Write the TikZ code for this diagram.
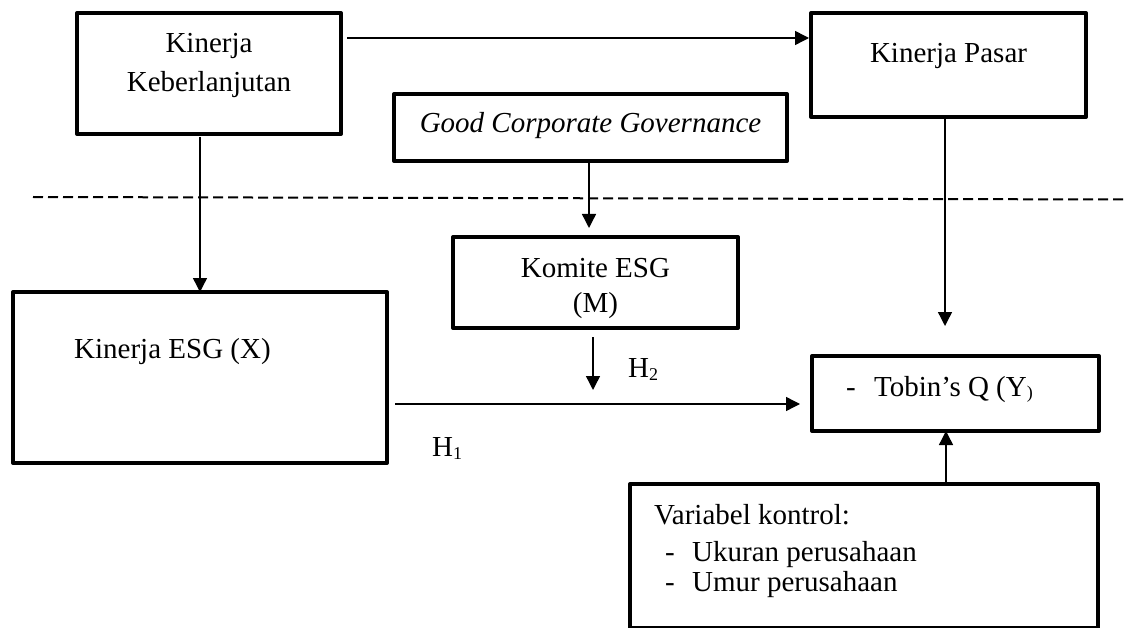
\documentclass[tikz,border=0pt]{standalone}
\usepackage{fontspec}
\setmainfont{Liberation Serif}
\usetikzlibrary{arrows.meta}
\begin{document}
\begin{tikzpicture}[x=1pt,y=-1pt,
  box/.style={draw,line width=4pt,line join=round,rectangle,inner sep=0pt,outer sep=0pt},
  txt/.style={font=\fontsize{29}{34}\selectfont,inner sep=0pt,anchor=base},
  txtl/.style={txt,anchor=base west},
  arr/.style={line width=1.4pt,-{Triangle[length=14pt,width=14pt]}},
  sepline/.style={line width=2pt,dash pattern=on 10pt off 5pt}]
\useasboundingbox (0,0) rectangle (1126,628);
% boxes
\node[box,minimum width=264pt,minimum height=121pt] (kk) at (209,73.5) {};
\node[box,minimum width=275pt,minimum height=104pt] (kp) at (948.5,65) {};
\node[box,minimum width=393pt,minimum height=67pt] (gcg) at (590.5,127.5) {};
\node[box,minimum width=285pt,minimum height=91pt] (kom) at (595.5,282.5) {};
\node[box,minimum width=374pt,minimum height=171pt] (esg) at (200,377.5) {};
\node[box,minimum width=287pt,minimum height=75pt] (tob) at (955.5,393.5) {};
\node[box,minimum width=468pt,minimum height=144pt] (ctl) at (864,556) {};
% texts
\node[txt] (kkA) at (209,53) {Kinerja};
\node[txt] (kkB) at (209,92) {Keberlanjutan};
\node[txt] (kpA) at (948.5,63) {Kinerja Pasar};
\node[txt] (gcgA) at (590.5,133) {\itshape Good Corporate Governance};
\node[txt] (komA) at (595.5,277) {Komite ESG};
\node[txt] (komB) at (595.5,312) {(M)};
\node[txtl] (esgA) at (74,358) {Kinerja ESG (X)};
\node[txtl] (tobD) at (846,396) {-};
\node[txtl] (tobA) at (874,396) {Tobin’s Q (Y\raisebox{-2pt}{\fontsize{18}{18}\selectfont )}};
\node[txtl] (h2) at (628,377) {H\raisebox{-3pt}{\fontsize{18}{18}\selectfont 2}};
\node[txtl] (h1) at (432,456) {H\raisebox{-3pt}{\fontsize{18}{18}\selectfont 1}};
\node[txtl] (ctlA) at (654,524) {Variabel kontrol:};
\node[txtl] (ctlD1) at (665,561) {-};
\node[txtl] (ctlB) at (692,561) {Ukuran perusahaan};
\node[txtl] (ctlD2) at (665,591) {-};
\node[txtl] (ctlC) at (692,591) {Umur perusahaan};
% dashed separator
\coordinate (dsA) at (33,197);
\coordinate (dsB) at (1126,199.5);
\draw[sepline] (dsA) -- (dsB);
% helper coordinates
\coordinate (kkR) at (347,38);
\coordinate (kpL) at (809,38);
\coordinate (h1S) at (395,404);
\coordinate (h1E) at (800,404);
\coordinate (h2S) at (593,337);
\coordinate (h2E) at (593,390);
% connectors
\draw[arr] (kkR) -- (kpL);
\draw[arr,shorten <=3pt] (esg.north |- kk.south) -- (esg.north);
\draw[arr,shorten >=9pt] ([xshift=-1.5pt]gcg.south) -- ([xshift=-1.5pt]gcg.south |- kom.north);
\draw[arr,shorten >=30pt] ([xshift=-3.5pt]kp.south) -- ([xshift=-3.5pt]kp.south |- tob.north);
\draw[arr] (h2S) -- (h2E);
\draw[arr] (h1S) -- (h1E);
\draw[arr] ([xshift=-9.5pt]tob.south |- ctl.north) -- ([xshift=-9.5pt]tob.south);
\end{tikzpicture}
\end{document}
